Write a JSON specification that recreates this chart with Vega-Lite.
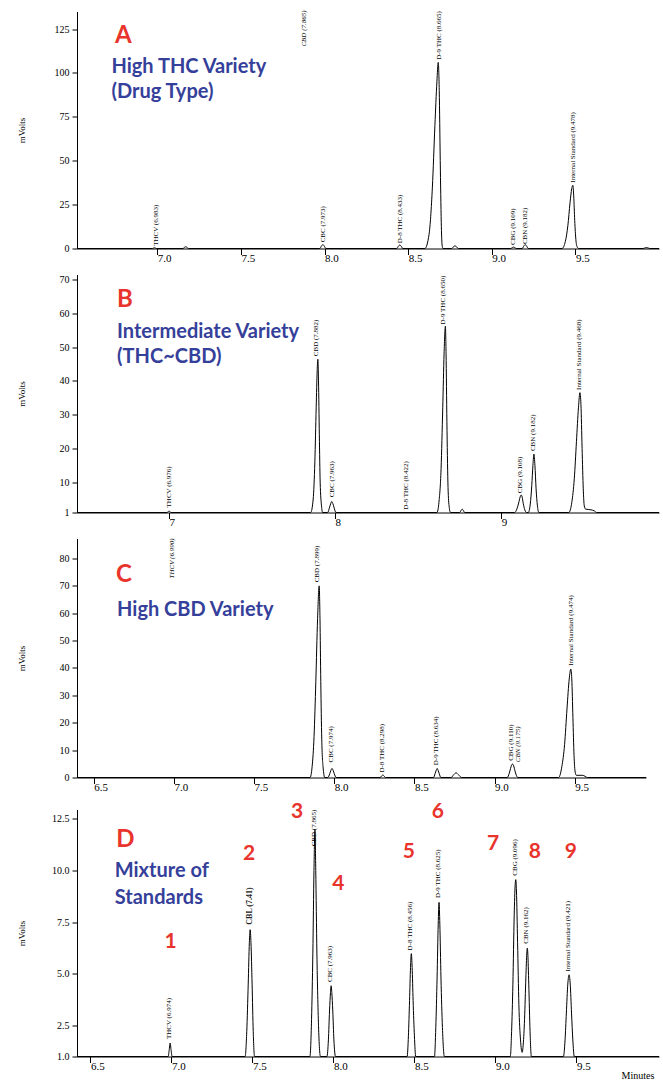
{
 "$schema": "https://vega.github.io/schema/vega-lite/v6.json",
 "background": "white",
 "padding": {"left": 17, "top": 9.5, "right": 0, "bottom": 0},
 "bounds": "flush",
 "spacing": 26,
 "datasets": {
  "traceA": [{"t":6.52,"mv":0},{"t":6.971,"mv":0},{"t":6.977,"mv":0.24},{"t":6.983,"mv":0.4},{"t":6.989,"mv":0.24},{"t":6.995,"mv":0},
   {"t":7.154,"mv":0},{"t":7.162,"mv":0.6},{"t":7.17,"mv":1.0},{"t":7.178,"mv":0.6},{"t":7.186,"mv":0},
   {"t":7.972,"mv":0},{"t":7.981,"mv":1.3},{"t":7.99,"mv":2.2},{"t":7.999,"mv":1.3},{"t":8.008,"mv":0},
   {"t":8.432,"mv":0},{"t":8.441,"mv":1.2},{"t":8.45,"mv":2.0},{"t":8.459,"mv":1.2},{"t":8.468,"mv":0},
   {"t":8.6,"mv":0},{"t":8.625,"mv":8},{"t":8.645,"mv":35},{"t":8.66,"mv":70},{"t":8.672,"mv":95},{"t":8.68,"mv":106},{"t":8.686,"mv":90},{"t":8.692,"mv":50},{"t":8.698,"mv":15},{"t":8.703,"mv":2},{"t":8.708,"mv":0},
   {"t":8.76,"mv":0},{"t":8.77,"mv":0.9},{"t":8.78,"mv":1.5},{"t":8.79,"mv":0.9},{"t":8.8,"mv":0},
   {"t":9.114,"mv":0},{"t":9.122,"mv":0.5},{"t":9.13,"mv":0.8},{"t":9.138,"mv":0.5},{"t":9.146,"mv":0},
   {"t":9.182,"mv":0},{"t":9.191,"mv":1.3},{"t":9.2,"mv":2.2},{"t":9.209,"mv":1.3},{"t":9.218,"mv":0},
   {"t":9.42,"mv":0},{"t":9.44,"mv":4},{"t":9.455,"mv":13},{"t":9.468,"mv":26},{"t":9.478,"mv":34},{"t":9.485,"mv":36},{"t":9.49,"mv":30},{"t":9.496,"mv":16},{"t":9.503,"mv":5},{"t":9.51,"mv":1},{"t":9.52,"mv":0},
   {"t":9.905,"mv":0},{"t":9.915,"mv":0.3},{"t":9.925,"mv":0.5},{"t":9.935,"mv":0.3},{"t":9.945,"mv":0},{"t":10.0,"mv":0}],
  "peaksA": [{"t":6.99,"mv":1.5,"name":"THCV (6.983)","status":"found"},
   {"t":7.877,"mv":115,"name":"CBD (7.865)","status":"missing"},
   {"t":7.99,"mv":3.5,"name":"CBC (7.973)","status":"found"},
   {"t":8.45,"mv":3.0,"name":"D-8 THC (8.433)","status":"found"},
   {"t":8.685,"mv":107.5,"name":"D-9 THC (8.665)","status":"found"},
   {"t":9.125,"mv":2.0,"name":"CBG (9.109)","status":"found"},
   {"t":9.2,"mv":2.5,"name":"CBN (9.182)","status":"found"},
   {"t":9.487,"mv":37.5,"name":"Internal Standard (9.478)","status":"found"}],
  "notesA": [{"t":6.747,"mv":117,"text":"A","role":"panel"},
   {"t":6.726,"mv":100,"text":"High THC Variety","role":"title"},
   {"t":6.726,"mv":85.6,"text":"(Drug Type)","role":"title"}],
  "traceB": [{"t":6.446,"mv":1},{"t":6.988,"mv":1},{"t":6.994,"mv":1.24},{"t":7.0,"mv":1.4},{"t":7.006,"mv":1.24},{"t":7.012,"mv":1},
   {"t":7.853,"mv":1},{"t":7.868,"mv":5},{"t":7.878,"mv":16},{"t":7.886,"mv":32},{"t":7.892,"mv":43},{"t":7.896,"mv":46.4},{"t":7.9,"mv":40},{"t":7.905,"mv":24},{"t":7.91,"mv":10},{"t":7.918,"mv":3},{"t":7.925,"mv":1},
   {"t":7.955,"mv":1},{"t":7.967,"mv":2.6},{"t":7.974,"mv":3.7},{"t":7.98,"mv":4.25},{"t":7.986,"mv":3.7},{"t":7.993,"mv":2.6},{"t":8.005,"mv":1},
   {"t":8.613,"mv":1},{"t":8.625,"mv":4},{"t":8.638,"mv":14},{"t":8.648,"mv":32},{"t":8.656,"mv":48},{"t":8.664,"mv":56.2},{"t":8.668,"mv":48},{"t":8.673,"mv":28},{"t":8.679,"mv":10},{"t":8.686,"mv":3},{"t":8.695,"mv":1},
   {"t":8.75,"mv":1},{"t":8.758,"mv":1.6},{"t":8.765,"mv":2},{"t":8.772,"mv":1.6},{"t":8.78,"mv":1},
   {"t":9.08,"mv":1},{"t":9.095,"mv":2.1},{"t":9.105,"mv":3.8},{"t":9.114,"mv":5.6},{"t":9.12,"mv":6.2},{"t":9.126,"mv":5.6},{"t":9.133,"mv":3.6},{"t":9.142,"mv":1.8},{"t":9.152,"mv":1},
   {"t":9.163,"mv":1},{"t":9.175,"mv":3.5},{"t":9.184,"mv":9},{"t":9.191,"mv":15},{"t":9.197,"mv":18.3},{"t":9.203,"mv":15},{"t":9.21,"mv":8},{"t":9.218,"mv":3},{"t":9.227,"mv":1},
   {"t":9.407,"mv":1},{"t":9.425,"mv":4},{"t":9.44,"mv":11},{"t":9.453,"mv":22},{"t":9.465,"mv":32},{"t":9.474,"mv":36.5},{"t":9.48,"mv":33},{"t":9.487,"mv":20},{"t":9.494,"mv":8},{"t":9.5,"mv":3},{"t":9.508,"mv":2},{"t":9.54,"mv":1.8},{"t":9.56,"mv":1.5},{"t":9.575,"mv":1},{"t":9.95,"mv":1}],
  "peaksB": [{"t":7.0,"mv":2.5,"name":"THCV (6.976)","status":"found"},
   {"t":7.883,"mv":47.3,"name":"CBD (7.882)","status":"found"},
   {"t":7.98,"mv":5.5,"name":"CBC (7.963)","status":"found"},
   {"t":8.429,"mv":1.8,"name":"D-8 THC (8.422)","status":"found"},
   {"t":8.651,"mv":56.7,"name":"D-9 THC (8.650)","status":"found"},
   {"t":9.112,"mv":6.7,"name":"CBG (9.108)","status":"found"},
   {"t":9.19,"mv":19.2,"name":"CBN (9.182)","status":"found"},
   {"t":9.47,"mv":37.3,"name":"Internal Standard (9.468)","status":"found"}],
  "notesB": [{"t":6.687,"mv":62,"text":"B","role":"panel"},
   {"t":6.687,"mv":52.8,"text":"Intermediate Variety","role":"title"},
   {"t":6.687,"mv":45.2,"text":"(THC~CBD)","role":"title"}],
  "traceC": [{"t":6.395,"mv":0},
   {"t":7.849,"mv":0},{"t":7.862,"mv":4},{"t":7.874,"mv":15},{"t":7.885,"mv":35},{"t":7.896,"mv":58},{"t":7.906,"mv":70},{"t":7.911,"mv":58},{"t":7.916,"mv":35},{"t":7.922,"mv":14},{"t":7.93,"mv":4},{"t":7.941,"mv":0},
   {"t":7.96,"mv":0},{"t":7.972,"mv":1.4},{"t":7.979,"mv":2.6},{"t":7.986,"mv":3.3},{"t":7.993,"mv":2.6},{"t":8.0,"mv":1.4},{"t":8.012,"mv":0},
   {"t":8.287,"mv":0},{"t":8.295,"mv":0.55},{"t":8.303,"mv":0.9},{"t":8.311,"mv":0.55},{"t":8.319,"mv":0},
   {"t":8.619,"mv":0},{"t":8.629,"mv":1.4},{"t":8.636,"mv":2.6},{"t":8.642,"mv":3.3},{"t":8.648,"mv":2.6},{"t":8.655,"mv":1.4},{"t":8.665,"mv":0},
   {"t":8.729,"mv":0},{"t":8.745,"mv":1.0},{"t":8.76,"mv":1.7},{"t":8.775,"mv":1.0},{"t":8.795,"mv":0},
   {"t":9.08,"mv":0},{"t":9.092,"mv":1.6},{"t":9.1,"mv":3.3},{"t":9.106,"mv":4.5},{"t":9.112,"mv":4.9},{"t":9.118,"mv":4.5},{"t":9.125,"mv":3.0},{"t":9.133,"mv":1.3},{"t":9.145,"mv":0},
   {"t":9.4,"mv":0},{"t":9.42,"mv":4},{"t":9.437,"mv":12},{"t":9.452,"mv":25},{"t":9.466,"mv":36},{"t":9.476,"mv":39.6},{"t":9.482,"mv":36},{"t":9.489,"mv":22},{"t":9.496,"mv":8},{"t":9.503,"mv":2},{"t":9.51,"mv":0.8},{"t":9.55,"mv":0.8},{"t":9.58,"mv":0},{"t":9.945,"mv":0}],
  "peaksC": [{"t":6.989,"mv":72.7,"name":"THCV (6.990)","status":"missing"},
   {"t":7.893,"mv":71.3,"name":"CBD (7.899)","status":"found"},
   {"t":7.98,"mv":5.5,"name":"CBC (7.974)","status":"found"},
   {"t":8.298,"mv":1.8,"name":"D-8 THC (8.298)","status":"found"},
   {"t":8.636,"mv":4.5,"name":"D-9 THC (8.634)","status":"found"},
   {"t":9.104,"mv":6.1,"name":"CBG (9.110)","status":"found"},
   {"t":9.144,"mv":5.6,"name":"CBN (9.175)","status":"missing"},
   {"t":9.475,"mv":40.8,"name":"Internal Standard (9.474)","status":"found"}],
  "notesC": [{"t":6.639,"mv":71.3,"text":"C","role":"panel"},
   {"t":6.645,"mv":58.9,"text":"High CBD Variety","role":"title"}],
  "traceD": [{"t":6.417,"mv":1},
   {"t":6.98,"mv":1},{"t":6.986,"mv":1.3},{"t":6.992,"mv":1.65},{"t":6.998,"mv":1.3},{"t":7.004,"mv":1},
   {"t":7.455,"mv":1},{"t":7.465,"mv":2.2},{"t":7.474,"mv":4.5},{"t":7.481,"mv":6.5},{"t":7.486,"mv":7.13},{"t":7.491,"mv":6.5},{"t":7.498,"mv":4.5},{"t":7.505,"mv":2.2},{"t":7.513,"mv":1},
   {"t":7.855,"mv":1},{"t":7.865,"mv":2.8},{"t":7.873,"mv":6},{"t":7.88,"mv":10},{"t":7.886,"mv":11.97},{"t":7.891,"mv":10},{"t":7.898,"mv":6},{"t":7.908,"mv":2.5},{"t":7.92,"mv":1},
   {"t":7.96,"mv":1},{"t":7.969,"mv":1.8},{"t":7.976,"mv":3.2},{"t":7.982,"mv":4.1},{"t":7.986,"mv":4.42},{"t":7.99,"mv":4.1},{"t":7.996,"mv":3.2},{"t":8.003,"mv":1.8},{"t":8.013,"mv":1},
   {"t":8.455,"mv":1},{"t":8.463,"mv":2},{"t":8.47,"mv":3.7},{"t":8.476,"mv":5.3},{"t":8.481,"mv":5.97},{"t":8.486,"mv":5.3},{"t":8.492,"mv":3.7},{"t":8.5,"mv":2},{"t":8.508,"mv":1},
   {"t":8.624,"mv":1},{"t":8.632,"mv":2.4},{"t":8.64,"mv":4.8},{"t":8.647,"mv":7.4},{"t":8.652,"mv":8.45},{"t":8.657,"mv":7.4},{"t":8.664,"mv":4.8},{"t":8.673,"mv":2.4},{"t":8.685,"mv":1},
   {"t":9.092,"mv":1},{"t":9.1,"mv":2.2},{"t":9.108,"mv":4.5},{"t":9.116,"mv":7.8},{"t":9.122,"mv":9.3},{"t":9.126,"mv":9.55},{"t":9.13,"mv":9.0},{"t":9.137,"mv":6.5},{"t":9.145,"mv":3.5},{"t":9.155,"mv":1.8},{"t":9.165,"mv":1.2},
   {"t":9.172,"mv":1.6},{"t":9.18,"mv":2.8},{"t":9.188,"mv":4.8},{"t":9.194,"mv":6.0},{"t":9.197,"mv":6.24},{"t":9.2,"mv":6.0},{"t":9.206,"mv":4.5},{"t":9.214,"mv":2.2},{"t":9.222,"mv":1},
   {"t":9.42,"mv":1},{"t":9.43,"mv":1.8},{"t":9.438,"mv":3.1},{"t":9.447,"mv":4.5},{"t":9.455,"mv":4.95},{"t":9.462,"mv":4.5},{"t":9.47,"mv":3.1},{"t":9.478,"mv":1.8},{"t":9.487,"mv":1},{"t":10.01,"mv":1}],
  "peaksD": [{"t":6.987,"mv":1.84,"name":"THCV (6.974)","status":"found"},
   {"t":7.487,"mv":7.37,"name":"CBL (7.41)","status":"added"},
   {"t":7.882,"mv":11.16,"name":"CBD (7.865)","status":"found"},
   {"t":7.981,"mv":4.6,"name":"CBC (7.963)","status":"found"},
   {"t":8.474,"mv":6.13,"name":"D-8 THC (8.456)","status":"found"},
   {"t":8.645,"mv":8.66,"name":"D-9 THC (8.625)","status":"found"},
   {"t":9.118,"mv":9.74,"name":"CBG (9.096)","status":"found"},
   {"t":9.19,"mv":6.45,"name":"CBN (9.162)","status":"found"},
   {"t":9.448,"mv":5.11,"name":"Internal Standard (9.421)","status":"found"}],
  "notesD": [{"t":6.659,"mv":11.14,"text":"D","role":"panel"},
   {"t":6.65,"mv":9.69,"text":"Mixture of","role":"title"},
   {"t":6.65,"mv":8.39,"text":"Standards","role":"title"},
   {"t":6.995,"mv":6.24,"text":"1","role":"peak"},
   {"t":7.48,"mv":10.52,"text":"2","role":"peak"},
   {"t":7.776,"mv":12.53,"text":"3","role":"peak"},
   {"t":8.03,"mv":9.03,"text":"4","role":"peak"},
   {"t":8.465,"mv":10.6,"text":"5","role":"peak"},
   {"t":8.644,"mv":12.53,"text":"6","role":"peak"},
   {"t":8.986,"mv":11.0,"text":"7","role":"peak"},
   {"t":9.244,"mv":10.6,"text":"8","role":"peak"},
   {"t":9.465,"mv":10.6,"text":"9","role":"peak"}]
 },
 "vconcat": [
  {
   "width": 582, "height": 237,
   "encoding": {
    "x": {"field": "t", "type": "quantitative", "scale": {"domain": [6.52, 10.0], "nice": false, "zero": false}, "axis": {"values": [7, 7.5, 8, 8.5, 9, 9.5], "format": ".1f", "title": null}},
    "y": {"field": "mv", "type": "quantitative", "scale": {"domain": [0, 135], "nice": false, "zero": false}, "axis": {"values": [0, 25, 50, 75, 100, 125], "format": "d", "title": "mVolts"}}
   },
   "layer": [
    {"data": {"name": "traceA"}, "mark": {"type": "line", "color": "black", "strokeWidth": 1, "interpolate": "monotone"}, "encoding": {}},
    {"data": {"name": "peaksA"}, "transform": [{"filter": "datum.status === 'found'"}], "mark": {"type": "text", "angle": 270, "align": "left", "baseline": "middle", "font": "Liberation Serif", "fontSize": 7, "color": "black"}, "encoding": {"text": {"field": "name"}}},
    {"data": {"name": "peaksA"}, "transform": [{"filter": "datum.status === 'missing'"}], "mark": {"type": "text", "angle": 270, "align": "left", "baseline": "middle", "font": "Liberation Serif", "fontSize": 7, "fontStyle": "italic", "color": "black"}, "encoding": {"text": {"field": "name"}}},
    {"data": {"name": "notesA"}, "transform": [{"filter": "datum.role === 'panel'"}], "mark": {"type": "text", "align": "left", "baseline": "alphabetic", "font": "Lato", "fontWeight": "bold", "fontSize": 24, "color": "#e8342c"}, "encoding": {"text": {"field": "text"}}},
    {"data": {"name": "notesA"}, "transform": [{"filter": "datum.role === 'title'"}], "mark": {"type": "text", "align": "left", "baseline": "alphabetic", "font": "Lato", "fontWeight": "bold", "fontSize": 20, "color": "#35409a"}, "encoding": {"text": {"field": "text"}}}
   ]
  },
  {
   "width": 582, "height": 238,
   "encoding": {
    "x": {"field": "t", "type": "quantitative", "scale": {"domain": [6.446, 9.95], "nice": false, "zero": false}, "axis": {"values": [7, 8, 9], "format": "d", "title": null}},
    "y": {"field": "mv", "type": "quantitative", "scale": {"domain": [1, 71.5], "nice": false, "zero": false}, "axis": {"values": [1, 10, 20, 30, 40, 50, 60, 70], "format": "d", "title": "mVolts"}}
   },
   "layer": [
    {"data": {"name": "traceB"}, "mark": {"type": "line", "color": "black", "strokeWidth": 1, "interpolate": "monotone"}, "encoding": {}},
    {"data": {"name": "peaksB"}, "transform": [{"filter": "datum.status === 'found'"}], "mark": {"type": "text", "angle": 270, "align": "left", "baseline": "middle", "font": "Liberation Serif", "fontSize": 7, "color": "black"}, "encoding": {"text": {"field": "name"}}},
    {"data": {"name": "notesB"}, "transform": [{"filter": "datum.role === 'panel'"}], "mark": {"type": "text", "align": "left", "baseline": "alphabetic", "font": "Lato", "fontWeight": "bold", "fontSize": 24, "color": "#e8342c"}, "encoding": {"text": {"field": "text"}}},
    {"data": {"name": "notesB"}, "transform": [{"filter": "datum.role === 'title'"}], "mark": {"type": "text", "align": "left", "baseline": "alphabetic", "font": "Lato", "fontWeight": "bold", "fontSize": 20, "color": "#35409a"}, "encoding": {"text": {"field": "text"}}}
   ]
  },
  {
   "bounds": "flush",
   "spacing": 32,
   "vconcat": [
    {
     "width": 569, "height": 239,
     "encoding": {
      "x": {"field": "t", "type": "quantitative", "scale": {"domain": [6.395, 9.945], "nice": false, "zero": false}, "axis": {"values": [6.5, 7, 7.5, 8, 8.5, 9, 9.5], "format": ".1f", "title": null}},
      "y": {"field": "mv", "type": "quantitative", "scale": {"domain": [0, 87.3], "nice": false, "zero": false}, "axis": {"values": [0, 10, 20, 30, 40, 50, 60, 70, 80], "format": "d", "title": "mVolts"}}
     },
     "layer": [
      {"data": {"name": "traceC"}, "mark": {"type": "line", "color": "black", "strokeWidth": 1, "interpolate": "monotone"}, "encoding": {}},
      {"data": {"name": "peaksC"}, "transform": [{"filter": "datum.status === 'found'"}], "mark": {"type": "text", "angle": 270, "align": "left", "baseline": "middle", "font": "Liberation Serif", "fontSize": 7, "color": "black"}, "encoding": {"text": {"field": "name"}}},
      {"data": {"name": "peaksC"}, "transform": [{"filter": "datum.status === 'missing'"}], "mark": {"type": "text", "angle": 270, "align": "left", "baseline": "middle", "font": "Liberation Serif", "fontSize": 7, "fontStyle": "italic", "color": "black"}, "encoding": {"text": {"field": "name"}}},
      {"data": {"name": "notesC"}, "transform": [{"filter": "datum.role === 'panel'"}], "mark": {"type": "text", "align": "left", "baseline": "alphabetic", "font": "Lato", "fontWeight": "bold", "fontSize": 24, "color": "#e8342c"}, "encoding": {"text": {"field": "text"}}},
      {"data": {"name": "notesC"}, "transform": [{"filter": "datum.role === 'title'"}], "mark": {"type": "text", "align": "left", "baseline": "alphabetic", "font": "Lato", "fontWeight": "bold", "fontSize": 20, "color": "#35409a"}, "encoding": {"text": {"field": "text"}}}
     ]
    },
    {
     "width": 582, "height": 247,
     "encoding": {
      "x": {"field": "t", "type": "quantitative", "scale": {"domain": [6.417, 10.01], "nice": false, "zero": false}, "axis": {"values": [6.5, 7, 7.5, 8, 8.5, 9, 9.5], "format": ".1f", "title": "Minutes", "titleX": 544, "titleY": 22, "titleAlign": "left", "titleBaseline": "alphabetic", "titleFontSize": 10}},
      "y": {"field": "mv", "type": "quantitative", "scale": {"domain": [1, 12.94], "nice": false, "zero": false}, "axis": {"values": [1, 2.5, 5, 7.5, 10, 12.5], "format": ".1f", "title": "mVolts"}}
     },
     "layer": [
      {"data": {"name": "traceD"}, "mark": {"type": "line", "color": "black", "strokeWidth": 1, "interpolate": "monotone"}, "encoding": {}},
      {"data": {"name": "peaksD"}, "transform": [{"filter": "datum.status === 'found'"}], "mark": {"type": "text", "angle": 270, "align": "left", "baseline": "middle", "font": "Liberation Serif", "fontSize": 7, "color": "black"}, "encoding": {"text": {"field": "name"}}},
      {"data": {"name": "peaksD"}, "transform": [{"filter": "datum.status === 'added'"}], "mark": {"type": "text", "angle": 270, "align": "left", "baseline": "middle", "font": "Liberation Serif", "fontSize": 8, "fontWeight": "bold", "color": "#222222"}, "encoding": {"text": {"field": "name"}}},
      {"data": {"name": "notesD"}, "transform": [{"filter": "datum.role === 'panel'"}], "mark": {"type": "text", "align": "left", "baseline": "alphabetic", "font": "Lato", "fontWeight": "bold", "fontSize": 24, "color": "#e8342c"}, "encoding": {"text": {"field": "text"}}},
      {"data": {"name": "notesD"}, "transform": [{"filter": "datum.role === 'title'"}], "mark": {"type": "text", "align": "left", "baseline": "alphabetic", "font": "Lato", "fontWeight": "bold", "fontSize": 20, "color": "#35409a"}, "encoding": {"text": {"field": "text"}}},
      {"data": {"name": "notesD"}, "transform": [{"filter": "datum.role === 'peak'"}], "mark": {"type": "text", "align": "center", "baseline": "alphabetic", "font": "Lato", "fontWeight": "bold", "fontSize": 21, "color": "#e8342c"}, "encoding": {"text": {"field": "text"}}}
     ]
    }
   ]
  }
 ],
 "config": {
  "view": {"stroke": null},
  "axis": {"domainColor": "black", "tickColor": "black", "labelColor": "black", "labelFont": "Liberation Serif", "labelFontSize": 10, "grid": false, "titleFont": "Liberation Serif", "titleFontSize": 9, "titleFontWeight": "normal", "titleColor": "black", "labelOverlap": false, "domainWidth": 1, "tickWidth": 1},
  "axisX": {"tickSize": 6, "labelAlign": "left", "labelBaseline": "top", "labelPadding": -2, "labelDx": 1, "labelFlush": false, "labelFontSize": 11},
  "axisY": {"tickSize": 5, "labelPadding": 3, "titleX": -56, "titleBaseline": "middle", "titlePadding": 0}
 }
}
